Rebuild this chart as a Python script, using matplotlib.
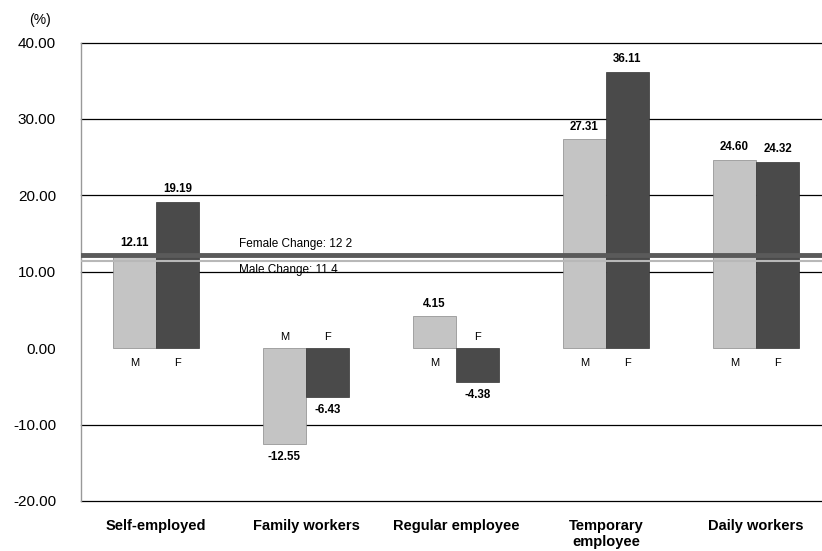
import matplotlib
matplotlib.use("Agg")
import matplotlib.pyplot as plt
import numpy as np

plt.rcParams["font.family"] = ["Liberation Sans", "DejaVu Sans"]

categories = ["Self-employed", "Family workers", "Regular employee", "Temporary\nemployee", "Daily workers"]
male = [12.11, -12.55, 4.15, 27.31, 24.60]
female = [19.19, -6.43, -4.38, 36.11, 24.32]
male_change = 11.4
female_change = 12.2
yticks = [-20, -10, 0, 10, 20, 30, 40]

fig = plt.figure(figsize=(8.22, 5.51), dpi=100)
ax = fig.add_axes([81/822, 50/551, 750/822, 458.5/551])
ax.set_xlim(-0.5, 4.5)
ax.set_ylim(-20, 40)

x = np.arange(len(categories))
w = 0.287
m_col = "#c4c4c4"
f_col = "#4a4a4a"

# grid lines
for yv in yticks:
    if yv != 0:
        ax.axhline(yv, color="black", lw=0.9, zorder=1, clip_on=False)

ax.bar(x - w/2, male, width=w, color=m_col, edgecolor="#888888", lw=0.5, zorder=2)
ax.bar(x + w/2, female, width=w, color=f_col, edgecolor="#333333", lw=0.5, zorder=2)

# reference lines
ax.axhline(female_change, color="#5a5a5a", lw=3.5, zorder=3)
ax.axhline(male_change, color="#b8b8b8", lw=1.5, zorder=3)
ax.text(0.55, female_change + 0.6, "Female Change: 12 2", fontsize=8.5, ha="left", va="bottom", zorder=4)
ax.text(0.55, male_change - 0.4, "Male Change: 11.4", fontsize=8.5, ha="left", va="top", zorder=4)

def vlabel(xp, v):
    if v >= 0:
        ax.annotate(f"{v:.2f}", (xp, v), xytext=(0, 5), textcoords="offset points",
                    ha="center", va="bottom", fontsize=8.3, fontweight="bold")
    else:
        ax.annotate(f"{v:.2f}", (xp, v), xytext=(0, -5), textcoords="offset points",
                    ha="center", va="top", fontsize=8.3, fontweight="bold")

def glabel(xp, v, s):
    if v >= 0:
        ax.annotate(s, (xp, 0), xytext=(0, -11), textcoords="offset points",
                    ha="center", va="center", fontsize=8)
    else:
        ax.annotate(s, (xp, 0), xytext=(0, 8), textcoords="offset points",
                    ha="center", va="center", fontsize=8)

for i in range(len(categories)):
    vlabel(x[i] - w/2, male[i])
    vlabel(x[i] + w/2, female[i])
    glabel(x[i] - w/2, male[i], "M")
    glabel(x[i] + w/2, female[i], "F")

ax.set_yticks(yticks)
ax.set_yticklabels([f"{v:.2f}" for v in yticks], fontsize=11)
ax.set_xticks(x)
ax.set_xticklabels(categories, fontsize=10.5, fontweight="bold", va="top")
ax.tick_params(axis="y", length=0, pad=18)
ax.tick_params(axis="x", length=0, pad=13)

for s in ["top", "right", "bottom"]:
    ax.spines[s].set_visible(False)
ax.spines["left"].set_color("#999999")
ax.spines["left"].set_linewidth(1.0)

fig.text(40/822, 1 - 20/551, "(%)", fontsize=10, ha="center", va="center")

fig.savefig("out.png", dpi=100)
